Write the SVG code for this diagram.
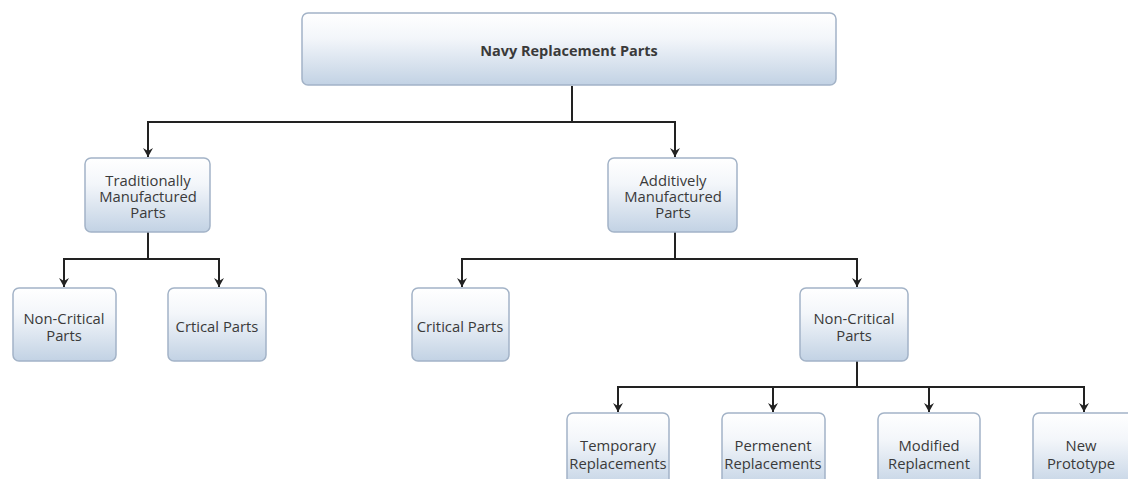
<svg xmlns="http://www.w3.org/2000/svg" width="1128" height="479" viewBox="0 0 1128 479">
<style>
.box{fill:url(#g);stroke:#a3b3c7;stroke-width:1.5}
.t{font-family:"Open Sans","DejaVu Sans",sans-serif;font-size:14.8px;fill:#3a3a3a;text-anchor:middle}
.b{font-weight:bold;font-size:14.5px}
.c{fill:none;stroke:#222;stroke-width:2;marker-end:url(#a)}
</style>
<defs>
<linearGradient id="g" x1="0" y1="0" x2="0" y2="1">
<stop offset="0" stop-color="#ffffff"/>
<stop offset="0.35" stop-color="#f3f6fa"/>
<stop offset="1" stop-color="#c2d2e4"/>
</linearGradient>
<marker id="a" markerUnits="userSpaceOnUse" markerWidth="12" markerHeight="12" viewBox="0 0 12 12" refX="6" refY="11" orient="0">
<path d="M1,2 L6,11 L11,2 L6,5 Z" fill="#222"/>
</marker>
</defs>
<rect width="1128" height="479" fill="#ffffff"/>
<g id="connectors">
<path class="c" d="M572,86 V122 H148 V157"/>
<path class="c" d="M572,122 H675 V157"/>
<path class="c" d="M148,232 V259 H64 V287"/>
<path class="c" d="M148,259 H219 V287"/>
<path class="c" d="M675,232 V259 H462 V287"/>
<path class="c" d="M675,259 H857 V287"/>
<path class="c" d="M857,361 V387 H618 V412"/>
<path class="c" d="M857,387 H773 V412"/>
<path class="c" d="M857,387 H929 V412"/>
<path class="c" d="M857,387 H1084 V412"/>
</g>
<g id="root">
<rect class="box" x="302" y="13" width="534" height="72" rx="6"/>
<text class="t b" x="569" y="56">Navy Replacement Parts</text>
</g>
<g id="traditional">
<rect class="box" x="85" y="158" width="125" height="74" rx="6"/>
<text class="t" x="148" y="186">Traditionally</text>
<text class="t" x="148" y="202">Manufactured</text>
<text class="t" x="148" y="218">Parts</text>
</g>
<g id="additive">
<rect class="box" x="608" y="158" width="129" height="74" rx="6"/>
<text class="t" x="673" y="186">Additively</text>
<text class="t" x="673" y="202">Manufactured</text>
<text class="t" x="673" y="218">Parts</text>
</g>
<g id="trad-noncritical">
<rect class="box" x="13" y="288" width="103" height="73" rx="6"/>
<text class="t" x="64" y="324">Non-Critical</text>
<text class="t" x="64" y="341">Parts</text>
</g>
<g id="trad-critical">
<rect class="box" x="168" y="288" width="98" height="73" rx="6"/>
<text class="t" x="217" y="332">Crtical Parts</text>
</g>
<g id="add-critical">
<rect class="box" x="412" y="288" width="97" height="73" rx="6"/>
<text class="t" x="460" y="332">Critical Parts</text>
</g>
<g id="add-noncritical">
<rect class="box" x="800" y="288" width="108" height="73" rx="6"/>
<text class="t" x="854" y="324">Non-Critical</text>
<text class="t" x="854" y="341">Parts</text>
</g>
<g id="temporary">
<rect class="box" x="567" y="413" width="102" height="76" rx="6"/>
<text class="t" x="618" y="451">Temporary</text>
<text class="t" x="618" y="469">Replacements</text>
</g>
<g id="permanent">
<rect class="box" x="722" y="413" width="103" height="76" rx="6"/>
<text class="t" x="773" y="451">Permenent</text>
<text class="t" x="773" y="469">Replacements</text>
</g>
<g id="modified">
<rect class="box" x="878" y="413" width="102" height="76" rx="6"/>
<text class="t" x="929" y="451">Modified</text>
<text class="t" x="929" y="469">Replacment</text>
</g>
<g id="prototype">
<rect class="box" x="1033" y="413" width="103" height="76" rx="6"/>
<text class="t" x="1081" y="451">New</text>
<text class="t" x="1081" y="469">Prototype</text>
</g>
</svg>
